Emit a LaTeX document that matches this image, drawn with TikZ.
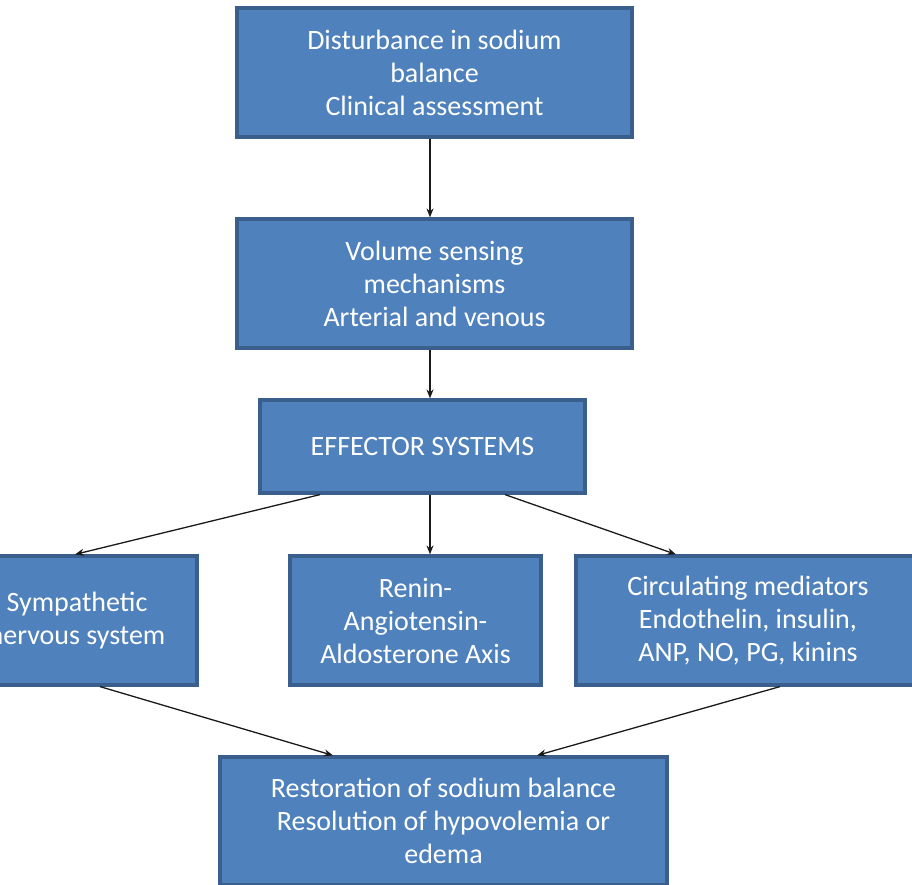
\documentclass[tikz,border=0pt]{standalone}
\usepackage{fontspec}
\setmainfont{Carlito}
\usetikzlibrary{positioning, arrows.meta, calc}
\definecolor{relleno}{HTML}{4F81BD}
\definecolor{borde}{HTML}{3A5F8C}
\definecolor{flecha}{HTML}{1A1A1A}

\begin{document}
\begin{tikzpicture}[x=1pt, y=-1pt,
    caja/.style={draw=borde, line width=3.2pt, fill=relleno, text=white,
                 align=center, inner sep=0pt,
                 font=\fontsize{28}{33}\selectfont},
    paso/.style={-{Stealth[length=9pt, width=7pt]}, draw=flecha, line width=1.3pt}]
    \useasboundingbox (0,0) rectangle (912,885);
    \clip (0,0) rectangle (912,885);
    % filas de cajas
    \node[caja, minimum width=395pt, minimum height=129pt] (disturbio) at (434.5,72.5)
        {Disturbance in sodium\\balance\\Clinical assessment};
    \node[caja, minimum width=395pt, minimum height=129pt] (sensores) at (434.5,283.5)
        {Volume sensing\\mechanisms\\Arterial and venous};
    \node[caja, minimum width=325pt, minimum height=93pt] (efectores) at (422.5,446.5)
        {EFFECTOR SYSTEMS};
    \node[caja, minimum width=240pt, minimum height=129pt] (simpatico) at (77,620.5)
        {Sympathetic\\nervous system};
    \node[caja, minimum width=251pt, minimum height=129pt] (renina) at (415.5,620.5)
        {Renin-\\Angiotensin-\\Aldosterone Axis};
    \node[caja, minimum width=344pt, minimum height=129pt] (mediadores) at (748,620.5)
        {Circulating mediators\\Endothelin, insulin,\\ANP, NO, PG, kinins};
    \node[caja, minimum width=447pt, minimum height=128pt] (restauracion) at (443.5,821)
        {Restoration of sodium balance\\Resolution of hypovolemia or\\edema};
    % flechas
    \draw[paso] ([xshift=-4.5pt]disturbio.south) -- ([xshift=-4.5pt]sensores.north);
    \draw[paso] ([xshift=-4.5pt]sensores.south) -- ([xshift=7.5pt]efectores.north);
    \draw[paso] ([xshift=7.5pt]efectores.south) -- ([xshift=14.5pt]renina.north);
    \draw[paso] ([xshift=-102.5pt]efectores.south) -- ([xshift=-2pt]simpatico.north);
    \draw[paso] ([xshift=82.5pt]efectores.south) -- ([xshift=-72pt]mediadores.north);
    \draw[paso] ([xshift=23pt]simpatico.south) -- ([xshift=-110.5pt]restauracion.north);
    \draw[paso] ([xshift=32pt]mediadores.south) -- ([xshift=93.5pt]restauracion.north);
\end{tikzpicture}
\end{document}
